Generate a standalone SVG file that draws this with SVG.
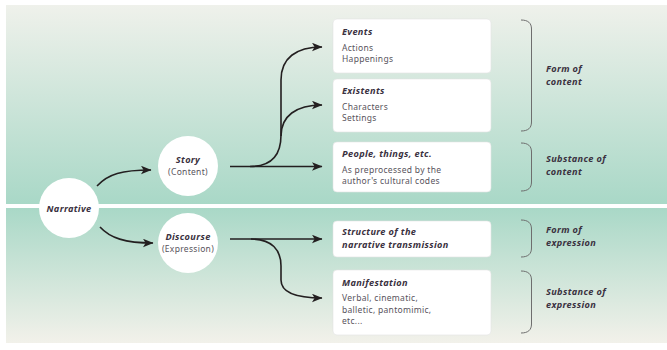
<svg xmlns="http://www.w3.org/2000/svg" width="667" height="350" viewBox="0 0 667 350">
<defs>
<linearGradient id="gTop" x1="0" y1="0" x2="0" y2="1">
<stop offset="0" stop-color="#eff1eb"/>
<stop offset="1" stop-color="#a9d8c7"/>
</linearGradient>
<linearGradient id="gBot" x1="0" y1="0" x2="0" y2="1">
<stop offset="0" stop-color="#a9d8c7"/>
<stop offset="1" stop-color="#f2f1ea"/>
</linearGradient>
<marker id="arr" markerUnits="userSpaceOnUse" markerWidth="12" markerHeight="10" refX="10" refY="4.25" orient="auto">
<path d="M0,0 L10.5,4.25 L0,8.5 L2.6,4.25 Z" fill="#231f20"/>
</marker>
<style>
.circ{fill:#fff}
.box{fill:#fff;stroke:#e2e2e2;stroke-width:0.6}
.h{font-family:"Noto Sans","Open Sans",sans-serif;font-weight:bold;font-style:italic;font-size:9.2px;letter-spacing:0.35px;fill:#3a3140}
.b{font-family:"Noto Sans","Open Sans",sans-serif;font-size:8.5px;letter-spacing:0.3px;fill:#58535c}
.lab{font-family:"Noto Sans","Open Sans",sans-serif;font-weight:bold;font-style:italic;font-size:9.2px;letter-spacing:0.35px;fill:#3a3140}
.c{fill:none;stroke:#231f20;stroke-width:1.6}
.br{fill:none;stroke:#6e6e6e;stroke-width:1}
</style>
</defs>
<rect x="6" y="5" width="661" height="199" fill="url(#gTop)"/>
<rect x="6" y="208" width="661" height="135" fill="url(#gBot)"/>

<g id="connectors">
<path class="c" d="M97,186 C108,174 122,170 151,170" marker-end="url(#arr)"/>
<path class="c" d="M100,227 C110,238 125,243 153,243" marker-end="url(#arr)"/>
<path class="c" d="M230,166.5 H322" marker-end="url(#arr)"/>
<path class="c" d="M250,166.5 C272,166.5 281,155 281,135 V80 C281,58 296,47 322,47" marker-end="url(#arr)"/>
<path class="c" d="M281,136 C281,116 296,105 322,105" marker-end="url(#arr)"/>
<path class="c" d="M230,239 H322" marker-end="url(#arr)"/>
<path class="c" d="M251,239 C272,239 281,250 281,266 V280 C281,292 296,298 322,298" marker-end="url(#arr)"/>
</g>

<g id="narrative">
<circle class="circ" cx="69" cy="208" r="30"/>
<text class="h" x="69" y="211.5" text-anchor="middle">Narrative</text>
</g>
<g id="story">
<circle class="circ" cx="188" cy="166" r="30"/>
<text class="h" x="188" y="163" text-anchor="middle">Story</text>
<text class="b" x="188" y="175" text-anchor="middle">(Content)</text>
</g>
<g id="discourse">
<circle class="circ" cx="188" cy="243" r="30"/>
<text class="h" x="188" y="240" text-anchor="middle">Discourse</text>
<text class="b" x="188" y="252" text-anchor="middle">(Expression)</text>
</g>

<g id="events">
<rect class="box" x="333" y="19" width="158" height="54" rx="4"/>
<text class="h" x="342" y="35">Events</text>
<text class="b" x="342" y="50.5">Actions</text>
<text class="b" x="342" y="62.2">Happenings</text>
</g>
<g id="existents">
<rect class="box" x="333" y="79" width="158" height="53" rx="4"/>
<text class="h" x="342" y="94">Existents</text>
<text class="b" x="342" y="109.5">Characters</text>
<text class="b" x="342" y="121.2">Settings</text>
</g>
<g id="people">
<rect class="box" x="333" y="142" width="158" height="50" rx="4"/>
<text class="h" x="342" y="157">People, things, etc.</text>
<text class="b" x="342" y="172.5">As preprocessed by the</text>
<text class="b" x="342" y="184.2">author's cultural codes</text>
</g>
<g id="structure">
<rect class="box" x="333" y="221" width="158" height="36" rx="4"/>
<text class="h" x="342" y="235">Structure of the</text>
<text class="h" x="342" y="247.7">narrative transmission</text>
</g>
<g id="manifestation">
<rect class="box" x="333" y="270" width="158" height="65" rx="4"/>
<text class="h" x="342" y="286">Manifestation</text>
<text class="b" x="342" y="301">Verbal, cinematic,</text>
<text class="b" x="342" y="312.7">balletic, pantomimic,</text>
<text class="b" x="342" y="324.4">etc...</text>
</g>

<g id="form-of-content">
<path class="br" d="M521,20 C528,20 531.5,23 531.5,29 V122 C531.5,128 528,131 521,131"/>
<text class="lab" x="546" y="72">Form of</text>
<text class="lab" x="546" y="84.7">content</text>
</g>
<g id="substance-of-content">
<path class="br" d="M521,143 C528,143 531.5,146 531.5,152 V182 C531.5,188 528,191 521,191"/>
<text class="lab" x="546" y="162">Substance of</text>
<text class="lab" x="546" y="174.7">content</text>
</g>
<g id="form-of-expression">
<path class="br" d="M521,220 C528,220 531.5,223 531.5,229 V248 C531.5,254 528,257 521,257"/>
<text class="lab" x="546" y="233">Form of</text>
<text class="lab" x="546" y="245.7">expression</text>
</g>
<g id="substance-of-expression">
<path class="br" d="M521,271 C528,271 531.5,274 531.5,280 V324 C531.5,330 528,333 521,333"/>
<text class="lab" x="546" y="295">Substance of</text>
<text class="lab" x="546" y="307.7">expression</text>
</g>
</svg>
